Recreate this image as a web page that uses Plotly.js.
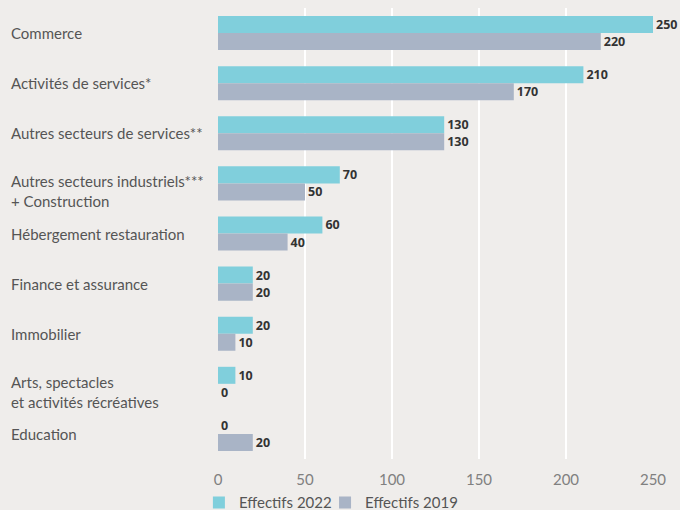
<!DOCTYPE html>
<html><head><meta charset="utf-8">
<script src="https://cdn.plot.ly/plotly-3.0.1.min.js"></script>
<style>html,body{margin:0;padding:0;background:#efedeb;}</style>
</head><body>
<div id="chart" style="width:680px;height:510px;"></div>
<script>
const categories = ["Commerce","Activités de services*","Autres secteurs de services**","Autres secteurs industriels***<br>+ Construction","Hébergement restauration","Finance et assurance","Immobilier","Arts, spectacles<br>et activités récréatives","Education"];
const values2022 = [250,210,130,70,60,20,20,10,0];
const values2019 = [220,170,130,50,40,20,10,0,20];
const xTicks = [0,50,100,150,200,250];

const labelFont = {family:"Lato, 'Noto Sans', sans-serif", size:15, color:"#555"};
const valFont = {family:"'Open Sans', 'Noto Sans', sans-serif", size:12.5, color:"#333", weight:700};
const legFont = {family:"Lato, 'Noto Sans', sans-serif", size:15, color:'#555'};

const traces = [
  {type:'bar', orientation:'h', name:'Effectifs 2022', y:categories, x:values2022,
   marker:{color:'#80cfdc'}, text:values2022.map(String), textposition:'outside',
   textfont:valFont, cliponaxis:false, hoverinfo:'none', legend:'legend'},
  {type:'bar', orientation:'h', name:'Effectifs 2019', y:categories, x:values2019,
   marker:{color:'#a9b4c6'}, text:values2019.map(String), textposition:'outside',
   textfont:valFont, cliponaxis:false, hoverinfo:'none', legend:'legend2'}
];

const annotations = categories.map(c => ({
  xref:'paper', yref:'y', x:-0.48, y:c, text:c, showarrow:false,
  xanchor:'left', yanchor:'middle', align:'left', font:labelFont,
  yshift: c.indexOf('<br>') >= 0 ? -8 : 0
}));

const layout = {
  width:680, height:510,
  margin:{l:218, r:27, t:8, b:51},
  paper_bgcolor:'#efedeb', plot_bgcolor:'#efedeb',
  barmode:'group', bargap:0.32, bargroupgap:0,
  xaxis:{range:[0,250], tickvals:xTicks, ticktext:xTicks.map(String),
    showgrid:true, gridcolor:'#ffffff', gridwidth:1.5, zeroline:false,
    tickfont:{family:"Lato, 'Noto Sans', sans-serif", size:15, color:'#808080'}, ticks:'',
    ticklabelstandoff:10, fixedrange:true},
  yaxis:{autorange:'reversed', showticklabels:false, ticks:'', showgrid:false, zeroline:false},
  showlegend:true,
  legend:{orientation:'h', xref:'container', yref:'container', x:0.2925, xanchor:'left', y:0.014, yanchor:'middle',
    font:legFont, itemwidth:30, bgcolor:'rgba(0,0,0,0)'},
  legend2:{orientation:'h', xref:'container', yref:'container', x:0.478, xanchor:'left', y:0.014, yanchor:'middle',
    font:legFont, itemwidth:30, bgcolor:'rgba(0,0,0,0)'},
  annotations:annotations
};
Plotly.newPlot('chart', traces, layout, {displayModeBar:false, staticPlot:true});
</script>
</body></html>
